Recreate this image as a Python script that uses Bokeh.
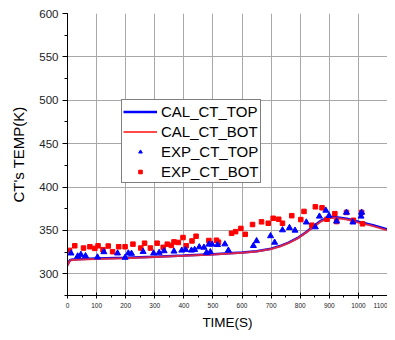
from bokeh.plotting import figure
from bokeh.models import SingleIntervalTicker, Legend, LegendItem, Range1d
from bokeh.embed import file_html
from bokeh.resources import INLINE

# ---- data ----
t_cal = [0, 5, 10, 20, 50, 100, 200, 300, 400, 500, 600, 650, 700, 730, 760, 790,
         820, 850, 870, 890, 910, 930, 960, 1000, 1050, 1100]
cal_top = [310, 314, 316, 316.5, 317, 317.5, 318.5, 319.7, 321, 322.5, 324.5, 326,
           329, 332, 336, 341, 348, 356, 361, 364, 365.5, 365, 363.5, 360, 356, 351]
cal_bot = [309, 313.5, 315.5, 316, 316.5, 317, 318, 319.3, 320.7, 322.2, 324.2, 325.7,
           328.5, 331.5, 335.5, 340.5, 347.5, 355, 360, 363, 364.5, 364, 362.5, 359, 355, 350]

t_exp_top = [12, 35, 46, 62, 103, 125, 172, 198, 209, 220, 260, 296, 315, 332, 366,
             393, 406, 426, 437, 453, 469, 478, 486, 491, 497, 516, 541, 553,
             639, 650, 698, 712, 739, 763, 782, 821, 852, 866, 888, 899, 925, 959,
             981, 1009, 1011]
exp_top = [323.7, 320.3, 322.1, 320.6, 319.1, 325.2, 323.7, 318.7, 323.7, 323.3,
           325.5, 323.7, 324.4, 326.3, 325.9, 327.0, 327.8, 327.0, 327.8, 330.8,
           330.4, 324.4, 333.9, 325.2, 333.9, 333.4, 334.2, 327.0,
           332.3, 337.9, 343.6, 336.1, 350.4, 353.1, 350.0, 359.4, 353.8, 366.2,
           373.0, 367.0, 360.5, 370.7, 359.4, 366.2, 370.7]

t_exp_bot = [7, 25, 55, 77, 94, 105, 122, 140, 155, 176, 198, 225, 252, 265, 285,
             308, 329, 343, 357, 366, 381, 397, 408, 428, 442, 486, 512, 519, 564,
             578, 596, 611, 636, 667, 690, 707, 726, 739, 771, 802, 813, 840, 852,
             875, 892, 919, 925, 959, 983, 1011, 1014]
exp_bot = [327.0, 332.3, 329.7, 331.2, 329.3, 332.3, 327.8, 332.0, 325.5, 331.2,
           331.2, 334.2, 329.7, 335.3, 329.7, 335.3, 330.5, 334.2, 332.7, 336.8,
           336.1, 341.8, 332.3, 337.9, 343.3, 338.4, 338.7, 336.5, 346.7, 348.6,
           352.3, 345.5, 356.8, 359.9, 358.3, 364.0, 362.9, 358.3, 367.0, 362.5,
           371.9, 356.0, 377.2, 376.1, 362.9, 369.3, 360.2, 370.7, 361.7, 370.7, 357.6]

labels = ["CAL_CT_TOP", "CAL_CT_BOT", "EXP_CT_TOP", "EXP_CT_BOT"]

FONT = "Liberation Sans"

p = figure(width=387, height=332, output_backend="svg", toolbar_location=None,
           x_range=Range1d(0, 1100), y_range=Range1d(275, 600),
           min_border_left=67, min_border_right=0, min_border_top=13,
           min_border_bottom=34)
p.outline_line_color = None
p.background_fill_color = "white"
p.border_fill_color = "white"

# axes
p.xaxis.ticker = SingleIntervalTicker(interval=100, num_minor_ticks=2)
p.yaxis.ticker = SingleIntervalTicker(interval=50, num_minor_ticks=2)
p.xgrid.ticker = p.xaxis.ticker
p.ygrid.ticker = p.yaxis.ticker
for ax in (p.xaxis, p.yaxis):
    ax.axis_line_color = "black"
    ax.major_tick_line_color = "black"
    ax.minor_tick_line_color = "black"
    ax.major_label_text_font = FONT
    ax.axis_label_text_font = FONT
    ax.axis_label_text_font_style = "normal"
    ax.major_label_text_color = "#222222"
    ax.axis_label_text_color = "black"

p.xaxis.axis_label = "TIME(S)"
p.xaxis.axis_label_text_font_size = "13.5px"
p.xaxis.major_label_text_font_size = "6.5px"
p.xaxis.major_tick_in = 3
p.xaxis.major_tick_out = 3
p.xaxis.minor_tick_in = 0
p.xaxis.minor_tick_out = 2
p.xaxis.major_label_standoff = 4
p.xaxis.axis_label_standoff = 4

p.yaxis.axis_label = "CT's TEMP(K)"
p.yaxis.axis_label_text_font_size = "15px"
p.yaxis.major_label_text_font_size = "11.5px"
p.yaxis.major_tick_in = 0
p.yaxis.major_tick_out = 5
p.yaxis.minor_tick_in = 0
p.yaxis.minor_tick_out = 3
p.yaxis.major_label_standoff = 4
p.yaxis.axis_label_standoff = 9

p.xgrid.grid_line_color = "#a8a8a8"
p.ygrid.grid_line_color = "#a8a8a8"
p.xgrid.grid_line_width = 1
p.ygrid.grid_line_width = 1

# data
r_top = p.line(t_cal, cal_top, line_color="#0000ff", line_width=2.5)
r_bot = p.line(t_cal, cal_bot, line_color="#ff2a2a", line_width=2, line_alpha=0.85)
r_eb = p.scatter(t_exp_bot, exp_bot, marker="square", size=4.5,
                 fill_color="#ff0000", line_color="#ff0000")
r_et = p.scatter(t_exp_top, exp_top, marker="triangle", size=6,
                 fill_color="#0000ff", line_color="#0000ff")

legend = Legend(items=[LegendItem(label=labels[0], renderers=[r_top]),
                       LegendItem(label=labels[1], renderers=[r_bot]),
                       LegendItem(label=labels[2], renderers=[r_et]),
                       LegendItem(label=labels[3], renderers=[r_eb])],
                location=(54, 112))
legend.label_text_font = FONT
legend.label_text_font_size = "15px"
legend.label_text_color = "black"
legend.glyph_width = 34
legend.glyph_height = 9
legend.label_height = 20
legend.label_standoff = 4
legend.spacing = 0
legend.padding = 1
legend.margin = 0
legend.border_line_color = "black"
legend.border_line_width = 1.2
legend.background_fill_color = "white"
legend.background_fill_alpha = 1
p.add_layout(legend)

open("out.html", "w").write(file_html(p, INLINE))
